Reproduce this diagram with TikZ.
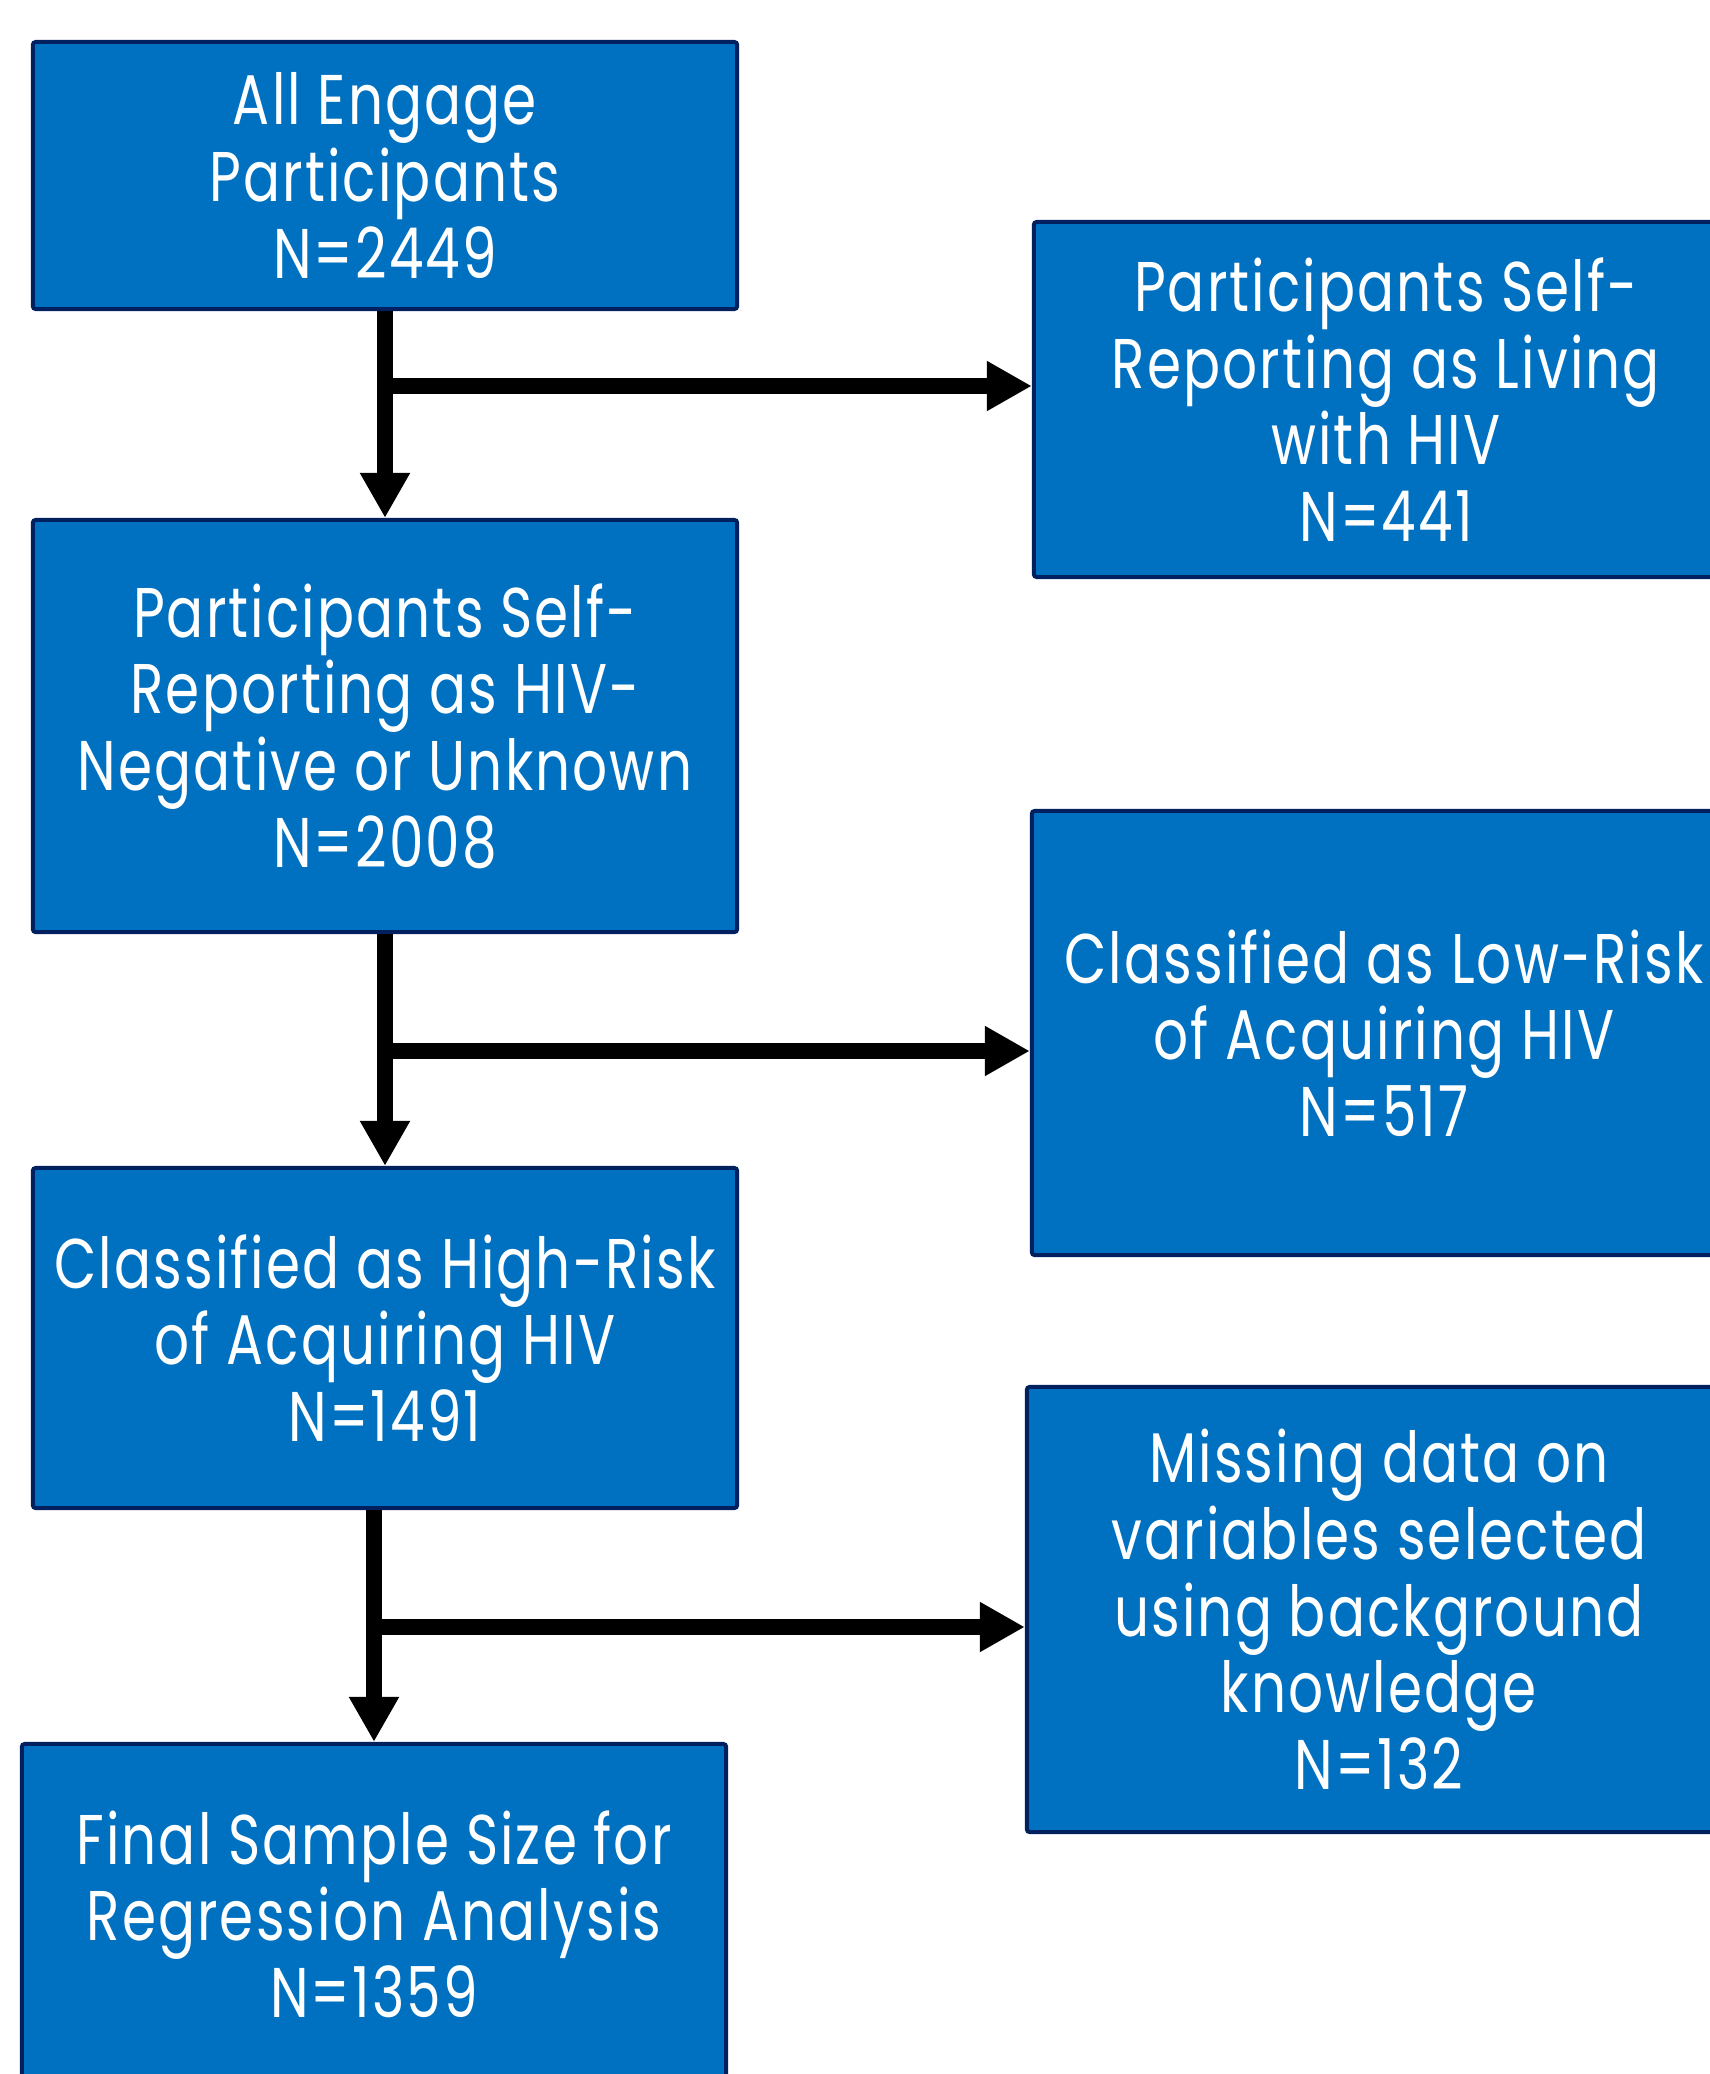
\documentclass[tikz,border=0pt]{standalone}
\usepackage{fontspec}
\setmainfont{Poppins}[FakeStretch=0.78,LetterSpace=3]
\usepackage{xcolor}
\usetikzlibrary{positioning,calc,arrows.meta}
\definecolor{boxblue}{HTML}{0070C0}
\definecolor{boxnavy}{HTML}{002060}
\begin{document}
\begin{tikzpicture}[
	% --- one unit = one pixel of the page, y runs downwards ---
	x=0.01cm, y=-0.01cm,
	flowbox/.style={
		rectangle, draw=boxnavy, line width=0.4mm, fill=boxblue,
		rounded corners=0.3mm, text=white, align=center,
		minimum width=7.04cm, inner sep=0pt,
		font=\fontsize{20}{21.8}\selectfont
	},
	flowarrow/.style={line width=0.16cm, -{Triangle[width=0.47cm,length=0.45cm]}}
	]
	\useasboundingbox (0,0) rectangle (1710,2074);
	\fill[white] (0,0) rectangle (1710,2074);
	\clip (0,0) rectangle (1710,2074);

	% Left column
	\node[flowbox, minimum height=2.67cm] (all) at (385,175.5) {All Engage\\Participants\\N=2449};
	\node[flowbox, minimum height=4.12cm] (hivneg) at (385,726) {Participants Self-\\Reporting as HIV-\\Negative or Unknown\\N=2008};
	\node[flowbox, minimum height=3.40cm] (highrisk) at (385,1338) {Classified as High-Risk\\of Acquiring HIV\\N=1491};
	\node[flowbox, minimum height=3.40cm] (final) at (374,1914) {Final Sample Size for\\Regression Analysis\\N=1359};

	% Right column (excluded)
	\node[flowbox, minimum height=3.55cm] (hivpos) at (1386,399.5) {Participants Self-\\Reporting as Living\\with HIV\\N=441};
	\node[flowbox, minimum height=4.44cm] (lowrisk) at (1384,1033) {Classified as Low-Risk\\of Acquiring HIV\\N=517};
	\node[flowbox, minimum height=4.45cm] (missing) at (1379,1609.5) {Missing data on\\variables selected\\using background\\knowledge\\N=132};

	% Branch points
	\coordinate (b1) at (385,386);
	\coordinate (b2) at (385,1051);
	\coordinate (b3) at (374,1627);

	% Arrows
	\draw[flowarrow] (all) -- (hivneg);
	\draw[flowarrow] (b1) -- (b1 -| hivpos.west);
	\draw[flowarrow] (hivneg) -- (highrisk);
	\draw[flowarrow] (b2) -- (b2 -| lowrisk.west);
	\draw[flowarrow] (final.north |- highrisk.south) -- (final.north);
	\draw[flowarrow] (b3) -- (b3 -| missing.west);
\end{tikzpicture}
\end{document}
